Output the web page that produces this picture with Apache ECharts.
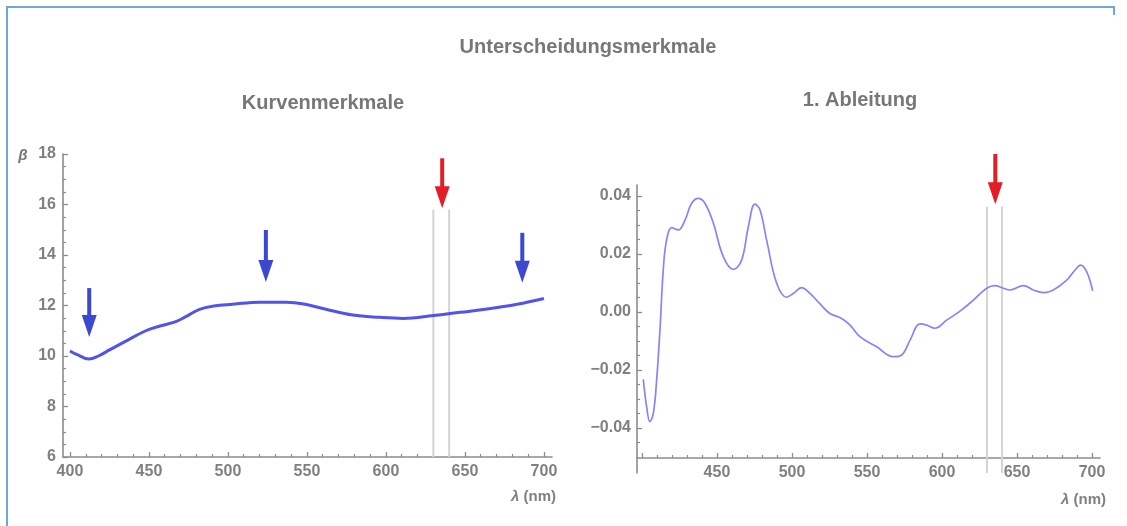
<!DOCTYPE html>
<html>
<head>
<meta charset="utf-8">
<script src="https://cdn.jsdelivr.net/npm/echarts@6/dist/echarts.min.js"></script>
<style>
  html, body { margin: 0; padding: 0; background: #ffffff; }
  #chart { width: 1127px; height: 526px; }
</style>
</head>
<body>
<div id="chart"></div>
<script>
// Curve features: β over wavelength λ (nm)
const betaLambda = [400, 405, 412, 418, 425, 436, 448, 457, 467, 474, 482, 491, 503, 520, 537, 548, 562, 579, 596, 611, 630, 647, 664, 683, 700];
const betaValues = [10.20, 10.04, 9.88, 10.00, 10.24, 10.61, 11.00, 11.19, 11.36, 11.58, 11.85, 11.98, 12.05, 12.13, 12.13, 12.06, 11.85, 11.62, 11.53, 11.49, 11.60, 11.73, 11.86, 12.05, 12.28];

// First derivative dβ/dλ
const derivLambda = [400.9, 403.1, 405.3, 407.6, 409.8, 412.0, 414.2, 416.4, 419.8, 424.2, 428.7, 433.1, 437.6, 442.0, 447.6, 454.2, 460.9, 466.4, 470.9, 475.3, 478.7, 483.1, 489.8, 496.4, 500.9, 506.4, 512.0, 518.7, 525.3, 533.1, 538.7, 545.3, 556.4, 567.6, 573.1, 578.7, 585.3, 589.8, 595.3, 603.1, 612.0, 620.9, 629.8, 635.3, 640.9, 645.3, 654.2, 660.9, 667.6, 674.2, 683.1, 688.7, 692.4, 696.4, 700.4];
const derivValues = [-0.0232, -0.0326, -0.0378, -0.0349, -0.0234, -0.0062, 0.0145, 0.0248, 0.0291, 0.0283, 0.0317, 0.0375, 0.0392, 0.0375, 0.0306, 0.0191, 0.0147, 0.0179, 0.0294, 0.0372, 0.0352, 0.0248, 0.0099, 0.0051, 0.0064, 0.0084, 0.0064, 0.0028, -0.0005, -0.0022, -0.0045, -0.0085, -0.0120, -0.0154, -0.0148, -0.0097, -0.0041, -0.0045, -0.0056, -0.0028, 0.0003, 0.0041, 0.0082, 0.0091, 0.0082, 0.0076, 0.0091, 0.0076, 0.0067, 0.0076, 0.0110, 0.0145, 0.0162, 0.0139, 0.0073];

// Axis ticks and labels
const lambdaMajorTicks = [400, 450, 500, 550, 600, 650, 700];
const lambdaLabelsLeft = [400, 450, 500, 550, 600, 650, 700];
const lambdaLabelsRight = [450, 500, 550, 600, 650, 700];
const betaTicks = [6, 8, 10, 12, 14, 16, 18];
const derivTicks = [-0.04, -0.02, 0, 0.02, 0.04];

// Highlighted wavelength band
const bandLambda = [630, 640];
const bandTopBeta = 15.8;
const bandTopDeriv = 0.0363;

// Arrows: wavelength, tail value, tip value
const blueArrowLambda = [412.2, 524, 686.3];
const blueArrowTail = [12.69, 14.99, 14.88];
const blueArrowTip = [10.75, 12.93, 12.90];
const redArrowLambdaLeft = [635.6];
const redArrowTailLeft = [17.83];
const redArrowTipLeft = [15.85];
const redArrowLambdaRight = [635.5];
const redArrowTailRight = [0.0545];
const redArrowTipRight = [0.0372];

// Minor tick positions
const lambdaMinorTicks = [];
for (let v = 400; v <= 700; v += 10) if (v % 50 !== 0) lambdaMinorTicks.push(v);
const betaMinorTicks = [];
for (let v = 6.5; v < 18; v += 0.5) if (v % 2 !== 0) betaMinorTicks.push(v);
const derivMinorTicks = [];
for (let k = -9; k <= 7; k++) if (k % 4 !== 0) derivMinorTicks.push(k * 0.005);

const FONT = "'Liberation Sans', Arial, sans-serif";
const AXIS_COLOR = '#8c8c8c';
const LABEL_COLOR = '#808080';
const TITLE_COLOR = '#777777';
const TITLE_FONT = "bold 20px 'Liberation Sans', Arial, sans-serif";

const zip = (xs, ys) => xs.map((x, i) => [x, ys[i]]);
const zip3 = (xs, as, bs) => xs.map((x, i) => [x, as[i], bs[i]]);

const labelStyle = { color: LABEL_COLOR, fontFamily: FONT, fontSize: 16, fontWeight: 'bold' };
const lineStyle = { color: AXIS_COLOR, width: 1.6 };

function majorAxis(extra) {
  return Object.assign({
    type: 'value',
    axisLine: { show: true, onZero: false, lineStyle: lineStyle },
    splitLine: { show: false },
    axisTick: { show: true, inside: true, length: 5, lineStyle: { color: AXIS_COLOR, width: 1.3 } },
    axisLabel: Object.assign({ show: true, margin: 7 }, labelStyle)
  }, extra);
}
function minorAxis(extra) {
  return Object.assign({
    type: 'value',
    axisLine: { show: false, onZero: false },
    splitLine: { show: false },
    axisTick: { show: true, inside: true, length: 3, lineStyle: { color: AXIS_COLOR, width: 1.2 } },
    axisLabel: { show: false }
  }, extra);
}

function fmtDeriv(v) {
  const s = Math.abs(v).toFixed(2);
  return v < -1e-9 ? '\u2212' + s : s;
}

// Downward arrow from tail value to tip value at one wavelength
function arrowRenderer(color) {
  return function (params, api) {
    const tail = api.coord([api.value(0), api.value(1)]);
    const tip = api.coord([api.value(0), api.value(2)]);
    const x = tip[0];
    const headLen = 22, headHalf = 7.5, shaftHalf = 2;
    const base = tip[1] - headLen;
    return {
      type: 'group',
      children: [
        { type: 'rect', shape: { x: x - shaftHalf, y: tail[1], width: shaftHalf * 2, height: base - tail[1] + 2 }, style: { fill: color } },
        { type: 'polygon', shape: { points: [[x - headHalf, base], [x + headHalf, base], [x, tip[1]]] }, style: { fill: color } }
      ]
    };
  };
}

// Thin vertical guide line for the band edges
function bandRenderer(params, api) {
  const top = api.coord([api.value(0), api.value(2)]);
  const bottom = api.coord([api.value(0), api.value(1)]);
  return {
    type: 'line',
    shape: { x1: top[0], y1: top[1], x2: bottom[0], y2: bottom[1] },
    style: { stroke: '#d4d4d4', lineWidth: 2 }
  };
}

const chart = echarts.init(document.getElementById('chart'), null, { renderer: 'canvas' });

const option = {
  animation: false,
  backgroundColor: '#ffffff',
  grid: [
    { left: 63, top: 154, width: 489, height: 303 },
    { left: 637, top: 185, width: 463, height: 288 }
  ],
  xAxis: [
    majorAxis({ gridIndex: 0, position: 'bottom', min: 395.6, max: 705.1,
      axisTick: { show: true, inside: true, length: 5, customValues: lambdaMajorTicks, lineStyle: { color: AXIS_COLOR, width: 1.3 } },
      axisLabel: Object.assign({ show: true, margin: 7, customValues: lambdaLabelsLeft }, labelStyle) }),
    minorAxis({ gridIndex: 0, position: 'bottom', min: 395.6, max: 705.1,
      axisTick: { show: true, inside: true, length: 3, customValues: lambdaMinorTicks, lineStyle: { color: AXIS_COLOR, width: 1.2 } } }),
    majorAxis({ gridIndex: 1, position: 'bottom', offset: -15, min: 396.7, max: 705.3,
      axisTick: { show: true, inside: true, length: 5, customValues: lambdaMajorTicks, lineStyle: { color: AXIS_COLOR, width: 1.3 } },
      axisLabel: Object.assign({ show: true, margin: 7, customValues: lambdaLabelsRight }, labelStyle) }),
    minorAxis({ gridIndex: 1, position: 'bottom', offset: -15, min: 396.7, max: 705.3,
      axisTick: { show: true, inside: true, length: 3, customValues: lambdaMinorTicks, lineStyle: { color: AXIS_COLOR, width: 1.2 } } })
  ],
  yAxis: [
    majorAxis({ gridIndex: 0, position: 'left', min: 6, max: 18,
      axisTick: { show: true, inside: true, length: 5, customValues: betaTicks, lineStyle: { color: AXIS_COLOR, width: 1.3 } },
      axisLabel: Object.assign({ show: true, margin: 7, customValues: betaTicks }, labelStyle) }),
    minorAxis({ gridIndex: 0, position: 'left', min: 6, max: 18,
      axisTick: { show: true, inside: true, length: 3, customValues: betaMinorTicks, lineStyle: { color: AXIS_COLOR, width: 1.2 } } }),
    majorAxis({ gridIndex: 1, position: 'left', min: -0.0555, max: 0.0438,
      axisTick: { show: true, inside: true, length: 5, customValues: derivTicks, lineStyle: { color: AXIS_COLOR, width: 1.3 } },
      axisLabel: Object.assign({ show: true, margin: 6, customValues: derivTicks, formatter: fmtDeriv }, labelStyle) }),
    minorAxis({ gridIndex: 1, position: 'left', min: -0.0555, max: 0.0438,
      axisTick: { show: true, inside: true, length: 3, customValues: derivMinorTicks, lineStyle: { color: AXIS_COLOR, width: 1.2 } } })
  ],
  series: [
    {
      type: 'custom', xAxisIndex: 0, yAxisIndex: 0, clip: false, z: 1,
      data: zip3(bandLambda, bandLambda.map(() => 6), bandLambda.map(() => bandTopBeta)),
      encode: { x: 0, y: [1, 2] },
      renderItem: bandRenderer
    },
    {
      type: 'custom', xAxisIndex: 2, yAxisIndex: 2, clip: false, z: 1,
      data: zip3(bandLambda, bandLambda.map(() => -0.0555), bandLambda.map(() => bandTopDeriv)),
      encode: { x: 0, y: [1, 2] },
      renderItem: bandRenderer
    },
    {
      name: 'β', type: 'line', xAxisIndex: 0, yAxisIndex: 0, z: 3,
      data: zip(betaLambda, betaValues),
      smooth: 0.4, showSymbol: false, symbol: 'none',
      lineStyle: { color: '#5252ec', width: 3 }
    },
    {
      name: 'dβ/dλ', type: 'line', xAxisIndex: 2, yAxisIndex: 2, z: 3,
      data: zip(derivLambda, derivValues),
      smooth: 0.4, showSymbol: false, symbol: 'none',
      lineStyle: { color: '#8484ff', width: 1.7 }
    },
    {
      type: 'custom', xAxisIndex: 0, yAxisIndex: 0, clip: false, z: 5,
      data: zip3(blueArrowLambda, blueArrowTail, blueArrowTip),
      encode: { x: 0, y: [1, 2] },
      renderItem: arrowRenderer('#3c48d0')
    },
    {
      type: 'custom', xAxisIndex: 0, yAxisIndex: 0, clip: false, z: 5,
      data: zip3(redArrowLambdaLeft, redArrowTailLeft, redArrowTipLeft),
      encode: { x: 0, y: [1, 2] },
      renderItem: arrowRenderer('#e31e26')
    },
    {
      type: 'custom', xAxisIndex: 2, yAxisIndex: 2, clip: false, z: 5,
      data: zip3(redArrowLambdaRight, redArrowTailRight, redArrowTipRight),
      encode: { x: 0, y: [1, 2] },
      renderItem: arrowRenderer('#e31e26')
    }
  ],
  graphic: [
    { type: 'polyline', silent: true, shape: { points: [[7, 540], [7, 7], [1114, 7], [1114, 15]] },
      style: { stroke: '#6fa6dc', lineWidth: 2, fill: null } },
    { type: 'text', x: 588, y: 47, style: { text: 'Unterscheidungsmerkmale', font: TITLE_FONT, fill: TITLE_COLOR, textAlign: 'center', textVerticalAlign: 'middle' } },
    { type: 'text', x: 323, y: 103, style: { text: 'Kurvenmerkmale', font: TITLE_FONT, fill: TITLE_COLOR, textAlign: 'center', textVerticalAlign: 'middle' } },
    { type: 'text', x: 860, y: 100, style: { text: '1. Ableitung', font: TITLE_FONT, fill: TITLE_COLOR, textAlign: 'center', textVerticalAlign: 'middle' } },
    { type: 'text', x: 23, y: 156, style: { text: 'β', font: "italic bold 15px 'Liberation Sans', Arial, sans-serif", fill: '#7a7470', textAlign: 'center', textVerticalAlign: 'middle' } },
    { type: 'text', x: 556, y: 497, style: { text: '{i|λ} (nm)', font: "bold 15px 'Liberation Sans', Arial, sans-serif", fill: LABEL_COLOR, textAlign: 'right', textVerticalAlign: 'middle',
      rich: { i: { fontStyle: 'italic', fontWeight: 'bold', fontSize: 15, fontFamily: FONT, fill: LABEL_COLOR } } } },
    { type: 'text', x: 1106, y: 500, style: { text: '{i|λ} (nm)', font: "bold 15px 'Liberation Sans', Arial, sans-serif", fill: LABEL_COLOR, textAlign: 'right', textVerticalAlign: 'middle',
      rich: { i: { fontStyle: 'italic', fontWeight: 'bold', fontSize: 15, fontFamily: FONT, fill: LABEL_COLOR } } } }
  ]
};

chart.setOption(option);
</script>
</body>
</html>
